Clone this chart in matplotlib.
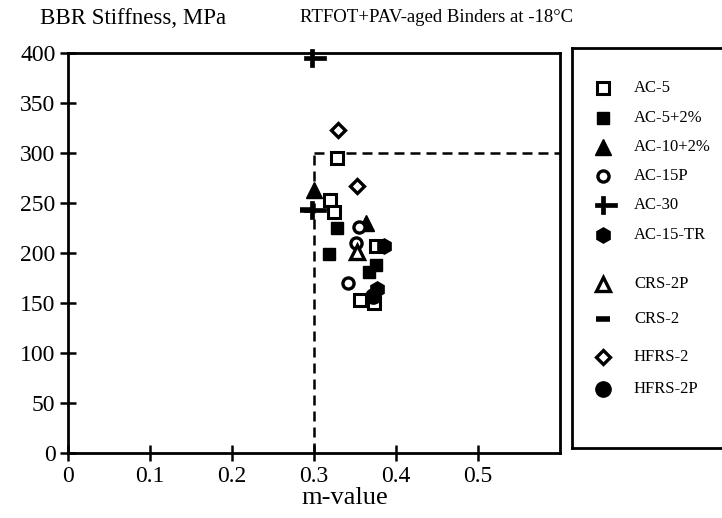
import matplotlib

matplotlib.use("Agg")
import matplotlib.pyplot as plt
from matplotlib.path import Path

plt.rcParams["font.family"] = ["Liberation Serif", "DejaVu Serif"]

# m-value / BBR stiffness (MPa) per binder
ac5_m = [0.328, 0.319, 0.324, 0.376, 0.356, 0.373]
ac5_s = [295, 253, 241, 207, 153, 150]
ac5p2_m = [0.328, 0.318, 0.367, 0.375]
ac5p2_s = [225, 199, 181, 188]
ac10p2_m = [0.300, 0.363]
ac10p2_s = [263, 230]
ac15p_m = [0.355, 0.351, 0.341]
ac15p_s = [226, 210, 170]
ac30_m = [0.298, 0.297]
ac30_s = [395, 243]
ac15tr_m = [0.385, 0.377]
ac15tr_s = [207, 164]
crs2p_m = [0.353]
crs2p_s = [201]
crs2_m = [0.291]
crs2_s = [243]
hfrs2_m = [0.329, 0.353]
hfrs2_s = [323, 267]
hfrs2p_m = [0.372]
hfrs2p_s = [157]

labels = ["AC-5", "AC-5+2%", "AC-10+2%", "AC-15P", "AC-30",
          "AC-15-TR", "CRS-2P", "CRS-2", "HFRS-2", "HFRS-2P"]
x_ticks = [0, 0.1, 0.2, 0.3, 0.4, 0.5]
y_ticks = [0, 50, 100, 150, 200, 250, 300, 350, 400]
spec_m = 0.3
spec_s = 300

# lopsided plus like the original symbol
t = 2.0
plus = Path([(-8, -t), (-t, -t), (-t, -9), (t, -9), (t, -t), (14, -t), (14, t),
             (t, t), (t, 9), (-t, 9), (-t, t), (-8, t), (-8, -t)])

styles = [
    dict(marker="s", ms=9, mfc="white", mec="black", mew=2.2),
    dict(marker="s", ms=9, mfc="black", mec="black", mew=1),
    dict(marker="^", ms=11, mfc="black", mec="black", mew=1),
    dict(marker="o", ms=8, mfc="white", mec="black", mew=2.4),
    dict(marker=plus, ms=20, mfc="black", mec="black", mew=0.5),
    dict(marker="h", ms=11, mfc="black", mec="black", mew=1),
    dict(marker="^", ms=10, mfc="white", mec="black", mew=2.4),
    dict(marker="_", ms=10, mec="black", mew=4),
    dict(marker="D", ms=7, mfc="white", mec="black", mew=2.4),
    dict(marker="o", ms=11, mfc="black", mec="black", mew=1),
]
series = [(ac5_m, ac5_s), (ac5p2_m, ac5p2_s), (ac10p2_m, ac10p2_s),
          (ac15p_m, ac15p_s), (ac30_m, ac30_s), (ac15tr_m, ac15tr_s),
          (crs2p_m, crs2p_s), (crs2_m, crs2_s), (hfrs2_m, hfrs2_s),
          (hfrs2p_m, hfrs2p_s)]

W, H = 722, 518
fig = plt.figure(figsize=(W / 100, H / 100), dpi=100)
ax = fig.add_axes([68 / W, 1 - 453 / H, (560 - 68) / W, (453 - 53) / H])

# spec limits: m >= 0.3, S <= 300 MPa
ax.plot([spec_m, spec_m], [0, spec_s], ls=(0, (4, 2.4)), color="black", lw=1.8)
ax.plot([spec_m, 0.6], [spec_s, spec_s], ls=(0, (4, 2.4)), color="black", lw=1.8)

for (m, s), st in zip(series, styles):
    ax.plot(m, s, ls="none", clip_on=False, **st)

ax.set_xlim(0, 0.6)
ax.set_ylim(0, 400)
ax.set_xticks(x_ticks)
ax.set_xticklabels([f"{v:g}" for v in x_ticks])
ax.set_yticks(y_ticks)
ax.tick_params(direction="inout", length=12, width=1.8, labelsize=17, pad=3)
for sp in ax.spines.values():
    sp.set_linewidth(2)

fig.text(40 / W, 1 - 18 / H, "BBR Stiffness, MPa", fontsize=16.5, va="center")
fig.text(300 / W, 1 - 18 / H, "RTFOT+PAV-aged Binders at -18°C", fontsize=13.5, va="center")
fig.text(345 / W, 1 - 498 / H, "m-value", fontsize=19, ha="center", va="center")

# legend panel, runs past the right edge like the original
lax = fig.add_axes([572 / W, 1 - 448 / H, (740 - 572) / W, (448 - 48) / H])
lax.set_xlim(572, 740)
lax.set_ylim(448, 48)
lax.set_xticks([])
lax.set_yticks([])
for sp in lax.spines.values():
    sp.set_linewidth(2)
rows = [88, 118, 147, 176, 205, 235, 284, 319, 357, 389]
for lab, st, y in zip(labels, styles, rows):
    lax.plot([603], [y], ls="none", **st)
    lax.text(634, y, lab, fontsize=12, va="center")

fig.savefig("out.png", dpi=100)
